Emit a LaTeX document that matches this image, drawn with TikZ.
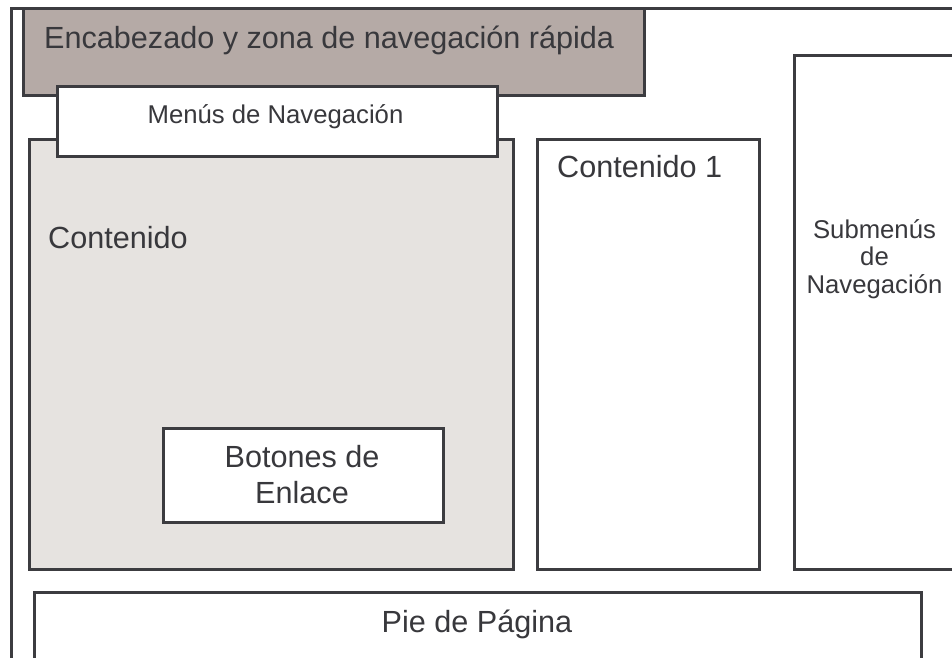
\documentclass[tikz,border=0pt]{standalone}
\usepackage{fontspec}
\setmainfont{Liberation Sans}
\definecolor{linec}{HTML}{3C3C40}
\definecolor{textc}{HTML}{38383C}
\definecolor{headfill}{HTML}{B5AAA6}
\definecolor{contfill}{HTML}{E6E3E0}
\tikzset{
  box/.style={draw=linec, line width=2.6pt, inner sep=0pt, anchor=north west},
  bigtxt/.style={text=textc, inner sep=0pt, font=\fontsize{30.6}{36}\selectfont},
  smalltxt/.style={text=textc, inner sep=0pt, font=\fontsize{25.7}{27.5}\selectfont},
}
\begin{document}
\begin{tikzpicture}[x=1pt,y=-1pt]
\useasboundingbox (0,0) rectangle (952,657);
\clip (0,0) rectangle (952,657);
\fill[white] (0,0) rectangle (952,657);
% outer frame
\node[box, minimum width=980pt, minimum height=700pt] (frame) at (10,7) {};
% header
\node[box, fill=headfill, minimum width=621pt, minimum height=87pt] (head) at (22,7) {};
% contenido
\node[box, fill=contfill, minimum width=484pt, minimum height=430pt] (cont) at (28,138) {};
% menus
\node[box, fill=white, minimum width=440pt, minimum height=70pt] (menu) at (56,85) {};
% contenido 1
\node[box, fill=white, minimum width=222pt, minimum height=430pt] (cont1) at (536,138) {};
% submenus
\node[box, fill=white, minimum width=200pt, minimum height=514pt] (sub) at (793,54) {};
% botones
\node[box, fill=white, minimum width=280pt, minimum height=94pt] (bot) at (162,427) {};
% pie
\node[box, fill=white, minimum width=887pt, minimum height=100pt] (pie) at (33,591) {};
% texts
\node[bigtxt, anchor=base west] (thead) at (44,48) {Encabezado y zona de navegación rápida};
\node[smalltxt, anchor=base] (tmenu) at (275.5,123) {Menús de Navegación};
\node[bigtxt, anchor=base west] (tcont) at (48,248) {Contenido};
\node[bigtxt, anchor=base west] (tcont1) at (557,177) {Contenido 1};
\node[smalltxt, anchor=base, align=center] (tsub) at (874.5,293) {Submenús\\de\\Navegación};
\node[bigtxt, anchor=base, align=center] (tbot) at (302,503) {Botones de\\Enlace};
\node[bigtxt, anchor=base] (tpie) at (477,632) {Pie de Página};
\end{tikzpicture}
\end{document}
